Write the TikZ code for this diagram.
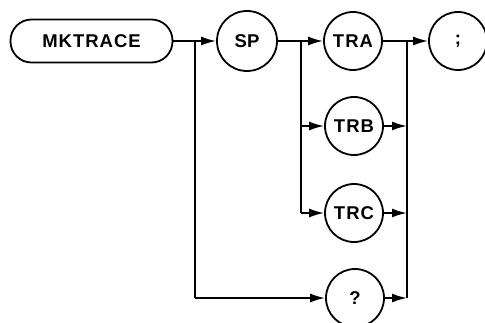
\documentclass[tikz,border=0pt]{standalone}
\usepackage{fontspec}
\setmainfont{Liberation Sans}
\usetikzlibrary{arrows.meta,calc}
\newcommand{\ls}{\kern1pt}
\begin{document}
\begin{tikzpicture}[x=1pt,y=1pt,
  every node/.style={font=\fontsize{18.5}{18.5}\selectfont\bfseries},
  circ/.style={draw,circle,line width=1.8pt,minimum size=58pt,inner sep=0pt},
  wire/.style={line width=1.8pt},
  arr/.style={wire,-{Latex[length=15pt,width=9pt]}}]
\useasboundingbox (0,0) rectangle (485,322);
\node[draw,line width=1.8pt,rounded corners=21pt,minimum width=162pt,minimum height=43pt] (mk) at (91.5,281) {M\ls K\ls T\ls R\ls A\ls C\ls E};
\node[circ,minimum size=60pt] (sp) at (247,281) {SP};
\node[circ] (tra) at (353,281) {T\ls R\ls A};
\node[circ] (semi) at (458,281) {;};
\node[circ] (trb) at (354,196) {T\ls R\ls B};
\node[circ] (trc) at (354,109) {T\ls R\ls C};
\node[circ] (q) at (355,24) {?};
\coordinate (j1) at (195,281);
\coordinate (j1b) at (195,24);
\coordinate (j2) at (301,281);
\coordinate (j2b) at (301,109);
\coordinate (j2m) at (301,196);
\coordinate (j3) at (407,281);
\coordinate (j3b) at (407,24);
\coordinate (j3m) at (407,196);
\coordinate (j3c) at (407,109);
\draw[arr] (mk.east) -- (sp.west);
\draw[wire] (j1) -- (j1b);
\draw[arr] (j1b) -- (q.west);
\draw[arr] (sp.east) -- (tra.west);
\draw[wire] (j2) -- (j2b);
\draw[arr] (j2m) -- (trb.west);
\draw[arr] (j2b) -- (trc.west);
\draw[arr] (tra.east) -- (semi.west);
\draw[wire] (j3) -- (j3b);
\draw[arr] (trb.east) -- (j3m);
\draw[arr] (trc.east) -- (j3c);
\draw[arr] (q.east) -- (j3b);
\end{tikzpicture}
\end{document}
